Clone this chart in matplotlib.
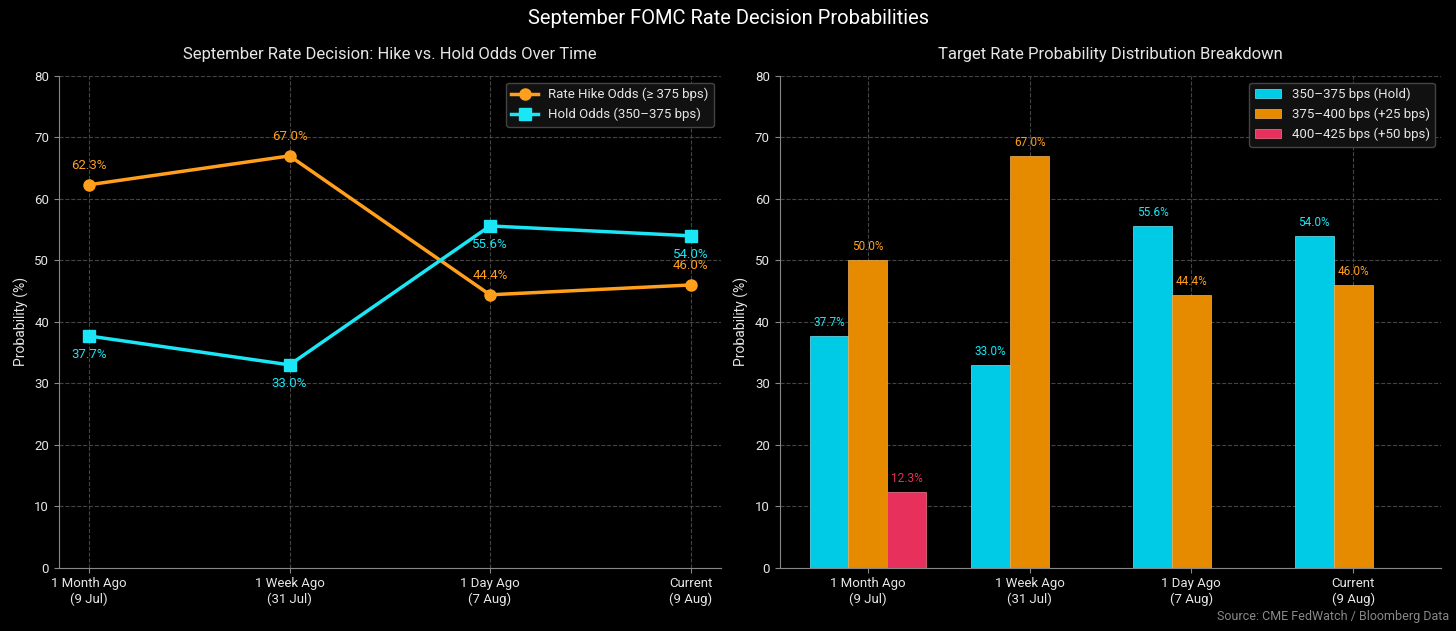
import matplotlib
matplotlib.use("Agg")
import matplotlib.pyplot as plt
import numpy as np

plt.rcParams['font.family'] = ['Roboto', 'DejaVu Sans']

categories = ["1 Month Ago\n(9 Jul)", "1 Week Ago\n(31 Jul)", "1 Day Ago\n(7 Aug)", "Current\n(9 Aug)"]
hike_odds = [62.3, 67.0, 44.4, 46.0]
hold_odds = [37.7, 33.0, 55.6, 54.0]
bar_hold = [37.7, 33.0, 55.6, 54.0]
bar_25 = [50.0, 67.0, 44.4, 46.0]
bar_50 = [12.3, 0.0, 0.0, 0.0]

ORANGE_L = "#FF9F1C"
CYAN_L = "#1AE6F5"
CYAN_B = "#00CBE6"
ORANGE_B = "#E68A00"
RED_B = "#E8305C"
GRID = "#444444"
SPINE = "#888888"
TXT = "#E6E6E6"

fig = plt.figure(figsize=(14.56, 6.31), dpi=100, facecolor="black")
ax1 = fig.add_axes([0.0405, 0.1003, 0.4544, 0.7793])
ax2 = fig.add_axes([0.5354, 0.1003, 0.4546, 0.7793])

for ax in (ax1, ax2):
    ax.set_facecolor("black")
    for s in ("top", "right"):
        ax.spines[s].set_visible(False)
    for s in ("left", "bottom"):
        ax.spines[s].set_color(SPINE)
    ax.tick_params(colors=SPINE, labelcolor=TXT, labelsize=9.5)
    ax.grid(True, color=GRID, linestyle="--", linewidth=0.8)
    ax.set_axisbelow(True)
    ax.set_ylim(0, 80)
    ax.set_ylabel("Probability (%)", color=TXT, fontsize=10)

x = np.arange(len(categories))

# Left panel
ax1.plot(x, hike_odds, color=ORANGE_L, marker="o", markersize=8, linewidth=2.5,
         label="Rate Hike Odds (≥ 375 bps)")
ax1.plot(x, hold_odds, color=CYAN_L, marker="s", markersize=8, linewidth=2.5,
         label="Hold Odds (350–375 bps)")
for xi, v in zip(x, hike_odds):
    ax1.annotate(f"{v:.1f}%", (xi, v), xytext=(0, 9), textcoords="offset points",
                 ha="center", va="bottom", color=ORANGE_L, fontsize=9.5)
for xi, v in zip(x, hold_odds):
    ax1.annotate(f"{v:.1f}%", (xi, v), xytext=(0, -9), textcoords="offset points",
                 ha="center", va="top", color=CYAN_L, fontsize=9.5)
ax1.set_xticks(x)
ax1.set_xticklabels(categories)
ax1.set_xlim(-0.15, 3.15)
ax1.set_title("September Rate Decision: Hike vs. Hold Odds Over Time", color=TXT,
              fontsize=12, pad=12)
leg1 = ax1.legend(loc="upper right", facecolor="#111111", edgecolor="#444444",
                  labelcolor=TXT, fontsize=9.5, framealpha=1)

# Right panel
w = 0.24
ax2.bar(x - w, bar_hold, w, color=CYAN_B, edgecolor="#6FE6F2", linewidth=0.5,
        label="350–375 bps (Hold)")
ax2.bar(x, bar_25, w, color=ORANGE_B, edgecolor="#F2B25A", linewidth=0.5,
        label="375–400 bps (+25 bps)")
ax2.bar(x + w, bar_50, w, color=RED_B, edgecolor="#F27A95", linewidth=0.5,
        label="400–425 bps (+50 bps)")
for vals, off, col in ((bar_hold, -w, CYAN_L), (bar_25, 0, ORANGE_L), (bar_50, w, RED_B)):
    for xi, v in zip(x, vals):
        if v > 0:
            ax2.annotate(f"{v:.1f}%", (xi + off, v), xytext=(0, 5), textcoords="offset points",
                         ha="center", va="bottom", color=col, fontsize=8.5)
ax2.set_xticks(x)
ax2.set_xticklabels(categories)
ax2.set_xlim(-0.546, 3.546)
ax2.set_title("Target Rate Probability Distribution Breakdown", color=TXT,
              fontsize=12, pad=12)
ax2.legend(loc="upper right", facecolor="#111111", edgecolor="#444444",
           labelcolor=TXT, fontsize=9.5, framealpha=1)

fig.suptitle("September FOMC Rate Decision Probabilities", color="white",
             fontsize=14.5, y=0.985)
fig.text(0.995, 0.012, "Source: CME FedWatch / Bloomberg Data", color="#888888",
         fontsize=9, ha="right", va="bottom")

fig.savefig("out.png", dpi=100, facecolor="black")
